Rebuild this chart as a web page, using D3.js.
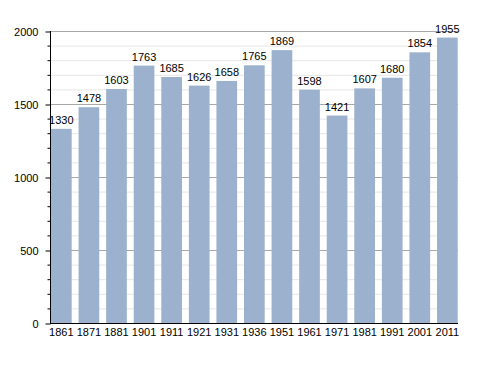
<!DOCTYPE html>
<html><head><meta charset="utf-8">
<script src="https://cdn.jsdelivr.net/npm/d3@7"></script>
<style>body{margin:0;background:#fff}svg{display:block}text{font-family:"Liberation Sans",Arial,sans-serif;font-size:11px;fill:#000}</style>
</head><body>
<svg id="c" width="488" height="373"></svg>
<script>
const years = ["1861","1871","1881","1901","1911","1921","1931","1936","1951","1961","1971","1981","1991","2001","2011"];
const population = [1330,1478,1603,1763,1685,1626,1658,1765,1869,1598,1421,1607,1680,1854,1955];
const yTicks = [0,500,1000,1500,2000];

const svg = d3.select("#c");
const x = d3.scaleBand().domain(years).range([51, 457.7]).paddingInner(0.25).paddingOuter(0);
const y = d3.scaleLinear().domain([0, 2000]).range([323, 31]);
const x0 = 50, x1 = 458;

// minor gridlines
const minor = d3.range(100, 2001, 100).filter(v => v % 500 !== 0);
svg.selectAll(".mg").data(minor).join("line")
  .attr("x1", x0).attr("x2", x1).attr("y1", d => y(d)+0.5).attr("y2", d => y(d)+0.5)
  .attr("stroke", "#e6e6e6").attr("stroke-width", 1);
// major gridlines
svg.selectAll(".Mg").data(yTicks.filter(v => v > 0)).join("line")
  .attr("x1", x0).attr("x2", x1).attr("y1", d => y(d)+0.5).attr("y2", d => y(d)+0.5)
  .attr("stroke", "#a8a8a8").attr("stroke-width", 1);

// bars
svg.selectAll(".bar").data(population).join("rect")
  .attr("x", (d,i) => x(years[i])).attr("width", x.bandwidth())
  .attr("y", d => y(d)).attr("height", d => y(0) - y(d))
  .attr("fill", "#9bb1cd");

// value labels
svg.selectAll(".vl").data(population).join("text")
  .attr("x", (d,i) => x(years[i]) + x.bandwidth()/2)
  .attr("y", d => y(d) - 5)
  .attr("text-anchor", "middle").text(d => d);

// y axis minor ticks
svg.selectAll(".mt").data(minor).join("line")
  .attr("x1", x0-2.5).attr("x2", x0).attr("y1", d => y(d)+0.5).attr("y2", d => y(d)+0.5)
  .attr("stroke", "#000");
// y axis
const ya = d3.axisLeft(y).tickValues(yTicks).tickSize(5).tickFormat(d3.format("d"));
const gy = svg.append("g").attr("transform", `translate(${x0+0.5},0.5)`).call(ya);
gy.select(".domain").attr("d", `M0,${y(0)}V${y(2000)-0.5}`).attr("stroke","#000");
gy.selectAll(".tick text").attr("x", -12).style("font-size","11px").style("font-family","Liberation Sans, Arial, sans-serif").attr("fill","#000");

// x axis
const xa = d3.axisBottom(x).tickSize(0).tickPadding(5);
const gx = svg.append("g").attr("transform", `translate(0,${y(0)+0.5})`).call(xa);
gx.select(".domain").attr("d", `M${x0},0H${x1}`).attr("stroke","#000");
gx.selectAll(".tick text").style("font-size","11px").style("font-family","Liberation Sans, Arial, sans-serif").attr("fill","#000");
</script>
</body></html>
